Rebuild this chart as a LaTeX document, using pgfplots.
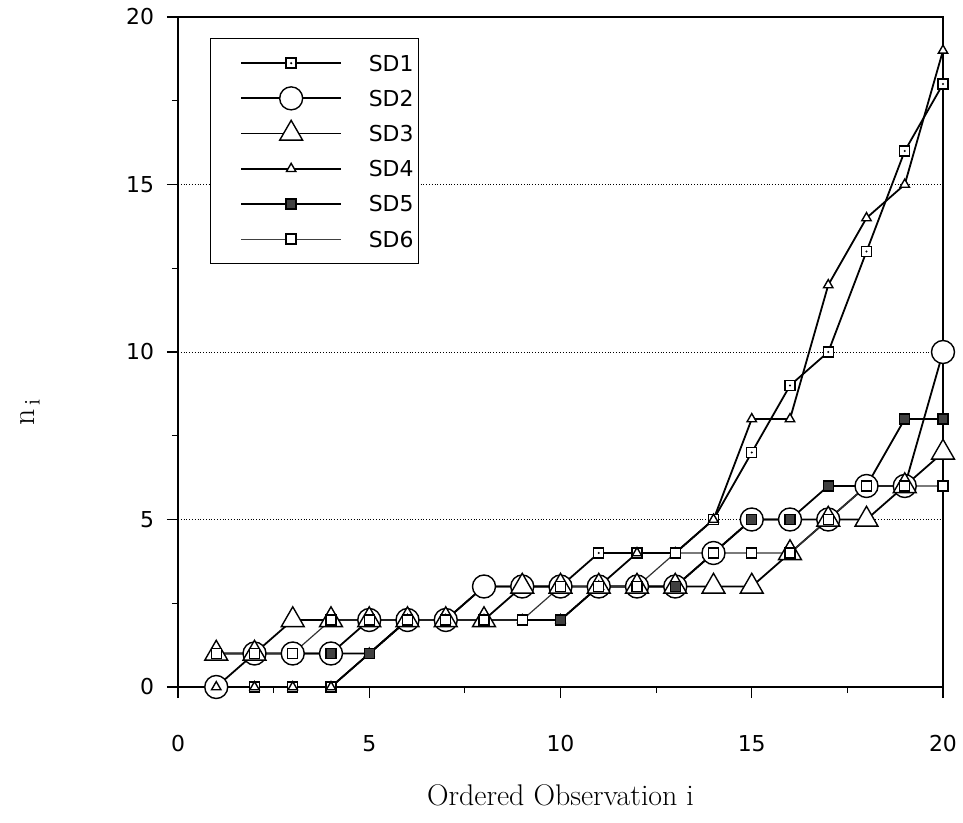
\documentclass[border=0pt]{standalone}
\usepackage{fontspec}
\usepackage{pgfplots}
\usepackage{pgfplotstable}
\pgfplotsset{compat=1.18}
\newfontfamily\sansf{DejaVu Sans}

\pgfdeclareplotmark{dotsquare}{%
  \pgfpathrectangle{\pgfpoint{-\pgfplotmarksize}{-\pgfplotmarksize}}{\pgfpoint{2\pgfplotmarksize}{2\pgfplotmarksize}}%
  \pgfusepathqfillstroke
  \begin{pgfscope}%
  \pgfsetfillcolor{black}%
  \pgfpathcircle{\pgfpointorigin}{0.6pt}%
  \pgfusepathqfill
  \end{pgfscope}%
}

\pgfplotstableread{
x sd1 sd2 sd3 sd4 sd5 sd6
1 0 0 1 0 1 1
2 0 1 1 0 1 1
3 0 1 2 0 1 1
4 0 1 2 0 1 2
5 1 2 2 1 1 2
6 2 2 2 2 2 2
7 2 2 2 2 2 2
8 3 3 2 2 2 2
9 3 3 3 2 2 2
10 3 3 3 2 2 3
11 4 3 3 3 3 3
12 4 3 3 4 3 3
13 4 3 3 4 3 4
14 5 4 3 5 4 4
15 7 5 3 8 5 4
16 9 5 4 8 5 4
17 10 5 5 12 6 5
18 13 6 5 14 6 6
19 16 6 6 15 8 6
20 18 10 7 19 8 6
}\data

\pgfplotsset{
  legA/.style={legend image code/.code={%
    \path (0,-8.5bp) (76bp,8.5bp);
    \draw[line width=0.9pt] (12.5bp,0) -- (62.5bp,0);
    \draw[##1] plot coordinates {(37.5bp,0)};}},
  legB/.style={legend image code/.code={%
    \path (0,-8.5bp) (76bp,8.5bp);
    \draw[line width=0.5pt, black!75] (12.5bp,0) -- (62.5bp,0);
    \draw[##1] plot coordinates {(37.5bp,0)};}},
}

\begin{document}
\begin{tikzpicture}
\path[use as bounding box] (-89bp,-68bp) rectangle (392.5bp,343.5bp);
\begin{axis}[
  scale only axis, width=382.5bp, height=335bp,
  xmin=0, xmax=20, ymin=0, ymax=20,
  xtick={0,5,10,15,20}, ytick={0,5,10,15,20},
  minor tick num=1,
  tick pos=left, tick align=outside,
  major tick length=5.5bp, minor tick length=3bp,
  every tick/.style={black, line width=0.7pt},
  every minor tick/.style={black, line width=0.6pt},
  ymajorgrids, major grid style={black, densely dotted, line width=0.5pt},
  axis line style={line width=0.8pt},
  tick label style={font=\sansf\fontsize{11}{13}\selectfont},
  /pgf/number format/assume math mode=true,
  xticklabel style={yshift=-15bp},
  yticklabel style={xshift=-3bp},
  xlabel={Ordered Observation i},
  xlabel style={font=\fontsize{15}{18}\selectfont, at={(axis description cs:0.5,-0.161)}, anchor=center},
  ylabel={$\mathrm{n}_{\,\mathrm{i}}$},
  ylabel style={font=\fontsize{16}{19}\selectfont, at={(axis description cs:-0.1935,0.41)}, anchor=center},
  legend style={at={(rel axis cs:0.0418,0.9687)}, anchor=north west, draw=black, line width=0.6pt,
    inner xsep=2.5bp, inner ysep=3.5bp, row sep=0pt,
    nodes={inner sep=0pt, text height=8bp, text depth=0pt, font=\sansf\fontsize{11}{13}\selectfont},
    cells={anchor=west}},
  legend cell align=left,
]
% lines first
\addplot[forget plot, no marks, line width=0.9pt, black] table[x=x,y=sd1]{\data};
\addplot[forget plot, no marks, line width=0.9pt, black] table[x=x,y=sd2]{\data};
\addplot[forget plot, no marks, line width=0.9pt, black] table[x=x,y=sd3]{\data};
\addplot[forget plot, no marks, line width=0.9pt, black] table[x=x,y=sd4]{\data};
\addplot[forget plot, no marks, line width=0.9pt, black] table[x=x,y=sd5]{\data};
\addplot[forget plot, no marks, line width=0.6pt, black!80] table[x=x,y=sd6]{\data};
% marks on top
\addplot[legA, only marks, mark=dotsquare, mark size=2.5bp, mark options={fill=white, draw=black, line width=0.7pt}] table[x=x,y=sd1]{\data};
\addlegendentry{SD1}
\addplot[legA, only marks, mark=*, mark size=5.75bp, mark options={fill=white, draw=black, line width=0.7pt}] table[x=x,y=sd2]{\data};
\addlegendentry{SD2}
\addplot[legA, only marks, mark=triangle*, mark size=6.6bp, mark options={fill=white, draw=black, line width=0.7pt}] table[x=x,y=sd3]{\data};
\addlegendentry{SD3}
\addplot[legA, only marks, mark=triangle*, mark size=2.7bp, mark options={fill=white, draw=black, line width=0.7pt}] table[x=x,y=sd4]{\data};
\addlegendentry{SD4}
\addplot[legA, only marks, mark=square*, mark size=2.5bp, mark options={fill=black!75, draw=black, line width=0.7pt}] table[x=x,y=sd5]{\data};
\addlegendentry{SD5}
\addplot[legB, only marks, mark=square*, mark size=2.5bp, mark options={fill=white, draw=black, line width=0.7pt}] table[x=x,y=sd6]{\data};
\addlegendentry{SD6}
\end{axis}
\end{tikzpicture}
\end{document}
